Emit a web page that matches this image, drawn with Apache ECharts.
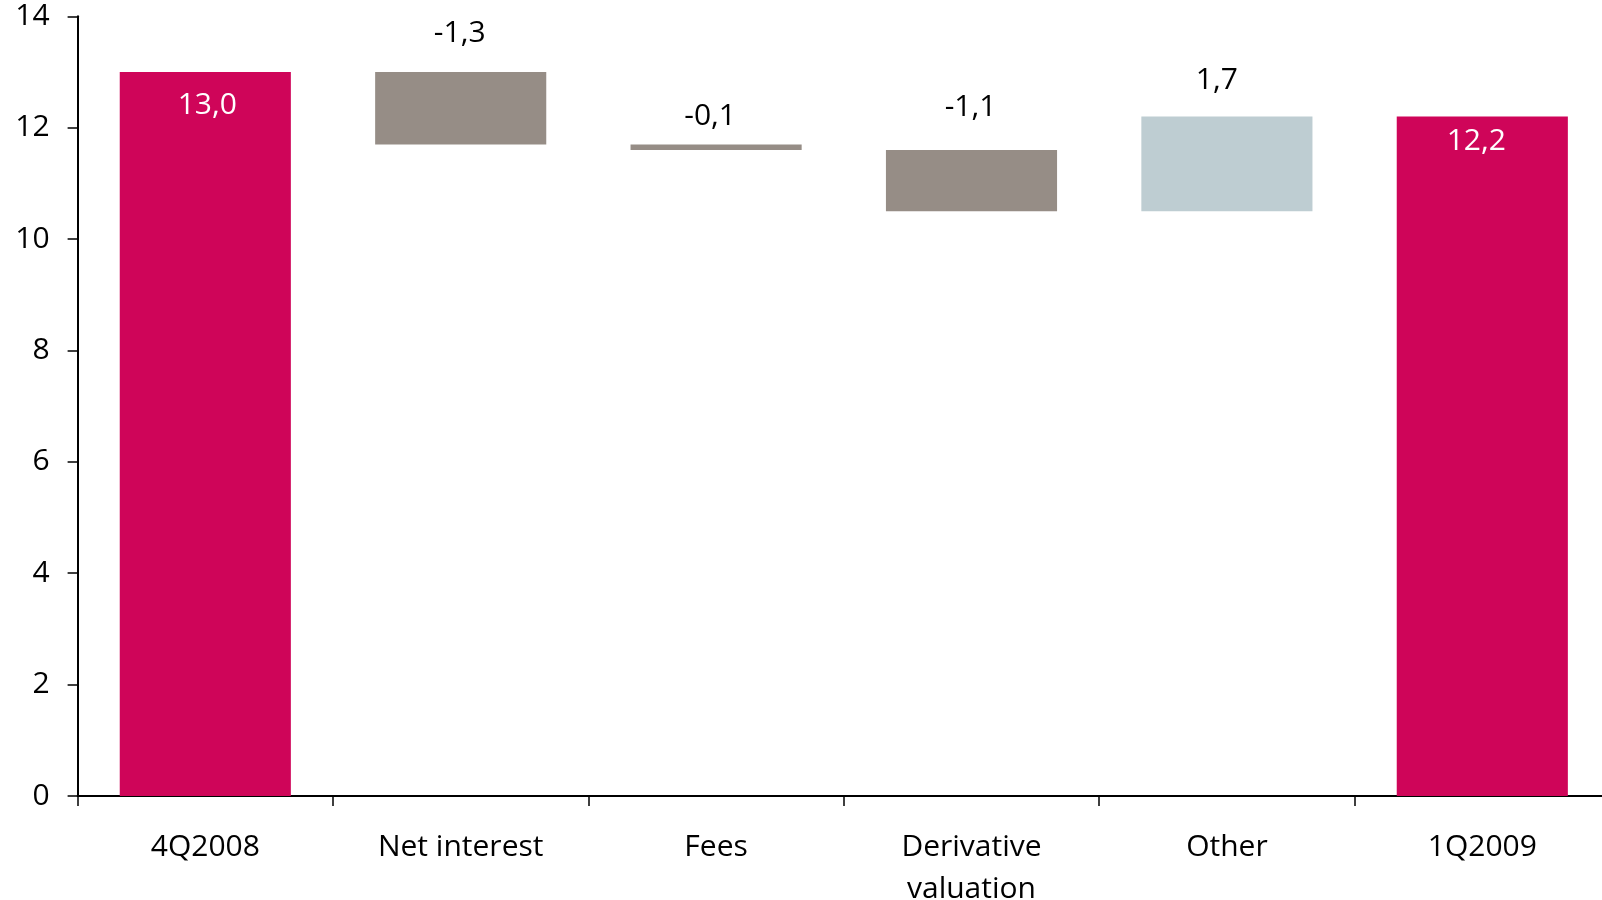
<!DOCTYPE html>
<html>
<head>
<meta charset="utf-8">
<script src="https://cdn.jsdelivr.net/npm/echarts@6/dist/echarts.min.js"></script>
<style>
  html, body { margin: 0; padding: 0; background: #ffffff; }
  #chart { width: 1602px; height: 900px; }
</style>
</head>
<body>
<div id="chart"></div>
<script>
// Bridge from 4Q2008 to 1Q2009
const categories = ['4Q2008', 'Net interest', 'Fees', 'Derivative\nvaluation', 'Other', '1Q2009'];
const values = [13.0, -1.3, -0.1, -1.1, 1.7, 12.2];
const kinds = ['total', 'change', 'change', 'change', 'change', 'total'];
const yTicks = [0, 2, 4, 6, 8, 10, 12, 14];

const COLOR_TOTAL = '#CF0559';
const COLOR_DOWN = '#968D86';
const COLOR_UP = '#BECDD2';
const FONT = '"Open Sans", "Noto Sans", sans-serif';
const FONT_SIZE = 30;

// invisible base + visible step for each category
const baseData = [];
const stepData = [];
let running = 0;
values.forEach((v, i) => {
  if (kinds[i] === 'total') {
    baseData.push(0);
    stepData.push(v);
    running = v;
  } else {
    const lo = v < 0 ? running + v : running;
    baseData.push(+lo.toFixed(2));
    stepData.push(+Math.abs(v).toFixed(2));
    running += v;
  }
});

// label gap from each step bar's top edge, and small horizontal nudges
const labelGap = [18.5, 24, 13, 28, 21, 10];
const labelShift = [2, -1, -6, -1, -10, -6];

const fmt = v => v.toFixed(1).replace('.', ',');

const stepItems = stepData.map((h, i) => {
  const isTotal = kinds[i] === 'total';
  const color = isTotal ? COLOR_TOTAL : (values[i] < 0 ? COLOR_DOWN : COLOR_UP);
  return {
    value: h,
    itemStyle: { color: color },
    label: isTotal
      ? { position: 'insideTop', distance: labelGap[i], offset: [labelShift[i], 0], color: '#ffffff' }
      : { position: 'top', distance: labelGap[i], offset: [labelShift[i], 0], color: '#000000' }
  };
});

const chart = echarts.init(document.getElementById('chart'), null, { renderer: 'canvas' });
chart.setOption({
  animation: false,
  backgroundColor: '#ffffff',
  // the last category runs past the right edge of the canvas
  grid: { left: 77.6, right: -8, top: 16.3, bottom: 104, containLabel: false, outerBoundsMode: 'none' },
  xAxis: {
    type: 'category',
    data: categories,
    boundaryGap: true,
    axisLine: { show: true, lineStyle: { color: '#000000', width: 2 } },
    axisTick: { show: true, inside: false, length: 10, lineStyle: { color: '#000000', width: 1.5 } },
    axisLabel: {
      color: '#000000',
      fontFamily: FONT,
      fontSize: FONT_SIZE,
      lineHeight: 42,
      margin: 30,
      interval: 0
    },
    splitLine: { show: false }
  },
  yAxis: {
    type: 'value',
    min: yTicks[0],
    max: yTicks[yTicks.length - 1],
    interval: 2,
    axisLine: { show: true, lineStyle: { color: '#000000', width: 2 } },
    axisTick: { show: true, inside: false, length: 10, lineStyle: { color: '#000000', width: 1.5 } },
    axisLabel: {
      color: '#000000',
      fontFamily: FONT,
      fontSize: FONT_SIZE,
      margin: 28
    },
    splitLine: { show: false }
  },
  series: [
    {
      name: 'base',
      type: 'bar',
      stack: 'bridge',
      barWidth: '67%',
      data: baseData,
      itemStyle: { color: 'rgba(0,0,0,0)' },
      emphasis: { disabled: true },
      silent: true
    },
    {
      name: 'step',
      type: 'bar',
      stack: 'bridge',
      barWidth: '67%',
      data: stepItems,
      label: {
        show: true,
        fontFamily: FONT,
        fontSize: FONT_SIZE,
        formatter: p => fmt(values[p.dataIndex])
      }
    }
  ]
});
</script>
</body>
</html>
